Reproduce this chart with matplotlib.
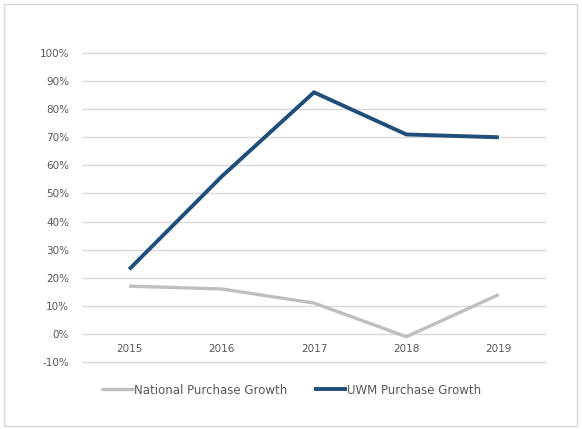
import matplotlib.pyplot as plt
from matplotlib.patches import Rectangle
from matplotlib.ticker import FuncFormatter

years = ['2015', '2016', '2017', '2018', '2019']
national_growth = [17, 16, 11, -1, 14]
uwm_growth = [23, 56, 86, 71, 70]

grey_text = '#595959'

fig = plt.figure(figsize=(5.82, 4.29), dpi=100)
ax = fig.add_axes([83 / 582, 1 - 362 / 429, 462 / 582, 309 / 429])

x = range(len(years))
ax.plot(x, national_growth, color='#bfbfbf', lw=2.4, label='National Purchase Growth',
        solid_capstyle='butt')
ax.plot(x, uwm_growth, color='#1f4e79', lw=2.8, label='UWM Purchase Growth',
        solid_capstyle='butt', solid_joinstyle='miter')

ax.set_xlim(-0.5, len(years) - 0.5)
ax.set_ylim(-10, 100)
ax.set_yticks(range(-10, 101, 10))
ax.yaxis.set_major_formatter(FuncFormatter(lambda v, p: f'{int(v)}%'))
ax.set_xticks(list(x))
ax.set_xticklabels(years)

ax.grid(axis='y', color='#d9d9d9', lw=1)
for g in ax.get_ygridlines():
    g.set_clip_on(False)
ax.set_axisbelow(True)
for s in ax.spines.values():
    s.set_visible(False)
ax.spines['bottom'].set_position(('data', 0))
ax.tick_params(axis='both', length=0, labelsize=7.5, colors=grey_text)
ax.tick_params(axis='x', pad=7)
ax.tick_params(axis='y', pad=10)

leg = fig.legend(loc='center', bbox_to_anchor=(0.5, 1 - 390 / 429), ncol=2, frameon=False,
                 fontsize=8.5, handlelength=2.8, handletextpad=0.05, columnspacing=2.2)
for t in leg.get_texts():
    t.set_color(grey_text)

# outer chart frame
fig.patches.append(Rectangle((4 / 582, 3 / 429), 573 / 582, 422 / 429, transform=fig.transFigure,
                             fill=False, edgecolor='#d9d9d9', lw=1))

fig.savefig('out.png', dpi=100)
